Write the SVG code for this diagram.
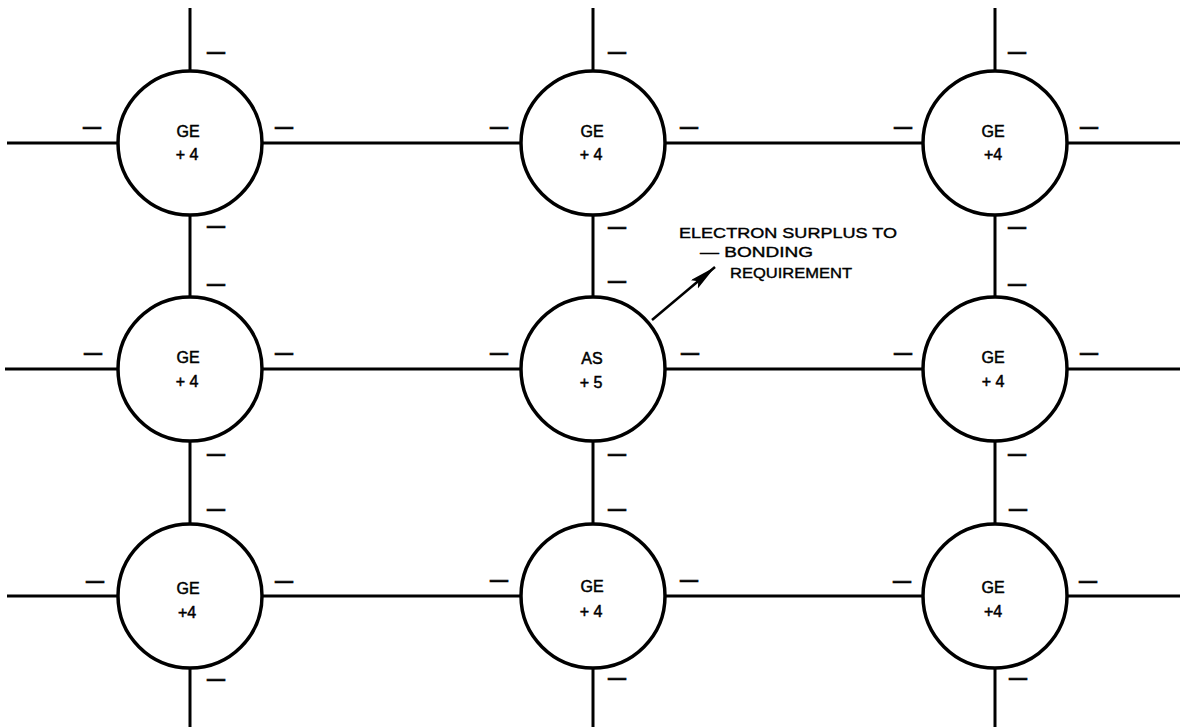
<svg xmlns="http://www.w3.org/2000/svg" width="1186" height="728" viewBox="0 0 1186 728">
<defs>
<style>
.bond{stroke:#000;stroke-width:3;fill:none;stroke-linecap:butt}
.atom{fill:#fff;stroke:#000;stroke-width:3.5}
.lbl{font-family:"Liberation Sans",Arial,sans-serif;font-size:16px;text-anchor:middle;fill:#000;stroke:#000;stroke-width:0.5}
.note{font-family:"Liberation Sans",Arial,sans-serif;font-size:15.5px;fill:#000;stroke:#000;stroke-width:0.4}
.e{font-family:"Liberation Sans",Arial,sans-serif;font-size:18px;font-weight:bold;text-anchor:middle;fill:#000;stroke:#000;stroke-width:0.7}
</style>
<marker id="arr" markerUnits="userSpaceOnUse" markerWidth="30" markerHeight="12" refX="27" refY="5.5" orient="auto">
<path d="M0,0 L27,5.5 L0,11 L5,5.5 z" fill="#000"/>
</marker>
</defs>
<rect width="1186" height="728" fill="#fff"/>
<g id="connectors">
<line class="bond" x1="7" y1="143" x2="118" y2="143"/>
<line class="bond" x1="262" y1="143" x2="521" y2="143"/>
<line class="bond" x1="665" y1="143" x2="923" y2="143"/>
<line class="bond" x1="1067" y1="143" x2="1180" y2="143"/>
<line class="bond" x1="5" y1="369" x2="118" y2="369"/>
<line class="bond" x1="262" y1="369" x2="521" y2="369"/>
<line class="bond" x1="665" y1="369" x2="923" y2="369"/>
<line class="bond" x1="1067" y1="369" x2="1180" y2="369"/>
<line class="bond" x1="7" y1="596" x2="118" y2="596"/>
<line class="bond" x1="262" y1="596" x2="521" y2="596"/>
<line class="bond" x1="665" y1="596" x2="923" y2="596"/>
<line class="bond" x1="1067" y1="596" x2="1180" y2="596"/>
<line class="bond" x1="190" y1="8" x2="190" y2="71"/>
<line class="bond" x1="190" y1="215" x2="190" y2="297"/>
<line class="bond" x1="190" y1="441" x2="190" y2="524"/>
<line class="bond" x1="190" y1="668" x2="190" y2="727"/>
<line class="bond" x1="593" y1="8" x2="593" y2="71"/>
<line class="bond" x1="593" y1="215" x2="593" y2="297"/>
<line class="bond" x1="593" y1="441" x2="593" y2="524"/>
<line class="bond" x1="593" y1="668" x2="593" y2="727"/>
<line class="bond" x1="995" y1="8" x2="995" y2="71"/>
<line class="bond" x1="995" y1="215" x2="995" y2="297"/>
<line class="bond" x1="995" y1="441" x2="995" y2="524"/>
<line class="bond" x1="995" y1="668" x2="995" y2="727"/>
<line x1="652" y1="320" x2="715" y2="267" stroke="#000" stroke-width="2.5" marker-end="url(#arr)"/>
</g>
<g id="electrons">
<text class="e" x="92" y="133">—</text><text class="e" x="284" y="133">—</text>
<text class="e" x="499" y="133">—</text><text class="e" x="689" y="133">—</text>
<text class="e" x="903" y="133">—</text><text class="e" x="1089" y="133">—</text>
<text class="e" x="93" y="359">—</text><text class="e" x="284" y="359">—</text>
<text class="e" x="499" y="359">—</text><text class="e" x="690" y="359">—</text>
<text class="e" x="903" y="359">—</text><text class="e" x="1089" y="359">—</text>
<text class="e" x="95" y="587">—</text><text class="e" x="284" y="587">—</text>
<text class="e" x="499" y="586">—</text><text class="e" x="689" y="586">—</text>
<text class="e" x="902" y="587">—</text><text class="e" x="1088" y="587">—</text>
<text class="e" x="216" y="58">—</text><text class="e" x="216" y="232">—</text>
<text class="e" x="216" y="290">—</text><text class="e" x="216" y="460">—</text>
<text class="e" x="216" y="515">—</text><text class="e" x="216" y="685">—</text>
<text class="e" x="617" y="58">—</text><text class="e" x="617" y="233">—</text>
<text class="e" x="617" y="287">—</text><text class="e" x="617" y="460">—</text>
<text class="e" x="617" y="515">—</text><text class="e" x="617" y="684">—</text>
<text class="e" x="1017" y="58">—</text><text class="e" x="1017" y="233">—</text>
<text class="e" x="1017" y="290">—</text><text class="e" x="1017" y="460">—</text>
<text class="e" x="1018" y="515">—</text><text class="e" x="1018" y="684">—</text>
</g>
<g id="n11"><circle class="atom" cx="190" cy="143" r="72"/><text class="lbl" x="188" y="137">GE</text><text class="lbl" x="187" y="160">+ 4</text></g>
<g id="n12"><circle class="atom" cx="593" cy="143" r="72"/><text class="lbl" x="592" y="137">GE</text><text class="lbl" x="591" y="160">+ 4</text></g>
<g id="n13"><circle class="atom" cx="995" cy="143" r="72"/><text class="lbl" x="993" y="137">GE</text><text class="lbl" x="993" y="160">+4</text></g>
<g id="n21"><circle class="atom" cx="190" cy="369" r="72"/><text class="lbl" x="188" y="363">GE</text><text class="lbl" x="187" y="387">+ 4</text></g>
<g id="n22"><circle class="atom" cx="593" cy="369" r="72"/><text class="lbl" x="592" y="364">AS</text><text class="lbl" x="591" y="388">+ 5</text></g>
<g id="n23"><circle class="atom" cx="995" cy="369" r="72"/><text class="lbl" x="993" y="363">GE</text><text class="lbl" x="993" y="387">+ 4</text></g>
<g id="n31"><circle class="atom" cx="190" cy="596" r="72"/><text class="lbl" x="188" y="594">GE</text><text class="lbl" x="187" y="618">+4</text></g>
<g id="n32"><circle class="atom" cx="593" cy="596" r="72"/><text class="lbl" x="592" y="592">GE</text><text class="lbl" x="591" y="617">+ 4</text></g>
<g id="n33"><circle class="atom" cx="995" cy="596" r="72"/><text class="lbl" x="993" y="593">GE</text><text class="lbl" x="993" y="617">+4</text></g>
<g id="annotation">
<text class="note" x="679" y="238" textLength="218" lengthAdjust="spacingAndGlyphs">ELECTRON SURPLUS TO</text>
<text class="note" x="700" y="257" textLength="113" lengthAdjust="spacingAndGlyphs">— BONDING</text>
<text class="note" x="730" y="278" textLength="122" lengthAdjust="spacingAndGlyphs">REQUIREMENT</text>
</g>
</svg>
